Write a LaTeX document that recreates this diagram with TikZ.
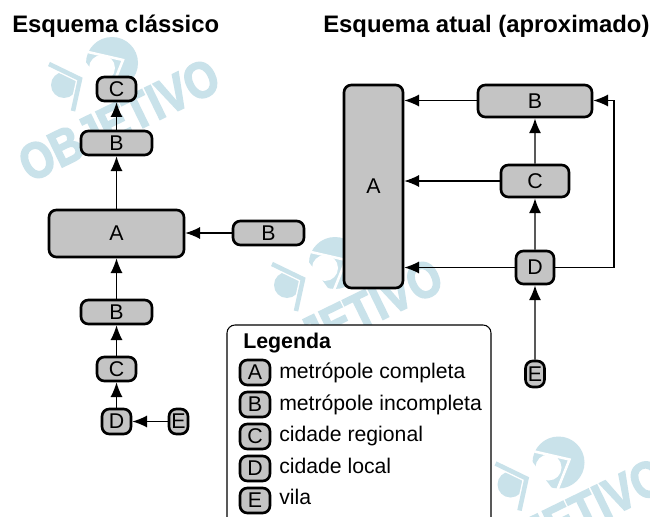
\documentclass[tikz,border=0pt]{standalone}
\usepackage{fontspec}
\setmainfont{Liberation Sans}
\newfontfamily\wmfont[BoldFeatures={FakeBold=3,FakeStretch=0.84}]{Liberation Sans}
\usetikzlibrary{arrows.meta}
\definecolor{wm}{HTML}{C9E2EA}
\definecolor{boxfill}{HTML}{C4C4C4}
\tikzset{
  x=0.75pt,y=-0.75pt,
  place/.style={draw=black,line width=2pt,fill=boxfill,rounded corners=5.5pt,inner sep=0pt,font=\fontsize{16}{18}\selectfont},
  link/.style={draw=black,line width=0.9pt,-{Latex[length=11pt,width=9pt]}},
  graylink/.style={link,draw=black!65,line width=1.2pt,-{Latex[length=11pt,width=9pt,black]}},
  title/.style={font=\bfseries\fontsize{17.9}{20}\selectfont,anchor=base west,inner sep=0pt},
  legendtext/.style={font=\fontsize{15.9}{18}\selectfont,anchor=base west,inner sep=0pt},
  wmtext/.style={text=wm,font=\wmfont\bfseries\fontsize{38}{42}\selectfont,inner sep=0pt}
}
\newcommand{\watermark}[2]{%
 \begin{scope}[shift={(#1,#2)}]
  \fill[wm] (0,0) circle[radius=26];
  \fill[white] (-30,-6) -- (-2,32) -- (-30,34) -- cycle;
  \fill[white] (-10,5) circle[radius=13];
  \draw[white,line width=1.9pt] (-24,-11) -- (11,-3) -- (-1,27);
  \fill[wm] (-48,22) circle[radius=13];
  \draw[white,line width=5.5pt] (-63,1) -- (-32,16) -- (-39,48);
  \draw[wm,line width=3.4pt] (-63,1) -- (-32,16) -- (-39,48);
  \node[wmtext,rotate=26,anchor=center] at (7,57) {OBJETIVO};
 \end{scope}}
\newcommand{\placebox}[6]{% x1,y1,x2,y2,name,text
 \node[place,minimum width=#3*0.75pt-#1*0.75pt,minimum height=#4*0.75pt-#2*0.75pt] (#5) at ({(#1+#3)/2},{(#2+#4)/2}) {#6};}
\begin{document}
\begin{tikzpicture}
\useasboundingbox (0,0) rectangle (650,517);
\fill[white] (0,0) rectangle (650,517);
\watermark{112}{63}
\watermark{335}{263}
\watermark{558.5}{462.5}
% titles
\node[title] (t1) at (12,33) {Esquema clássico};
\node[title] (t2) at (323,33) {Esquema atual (aproximado)};
% left scheme
\placebox{97}{77}{136}{101}{lc1}{C}
\placebox{81}{131}{152}{155}{lb1}{B}
\placebox{49}{210}{184}{257}{la}{A}
\placebox{233}{221}{304}{245}{lb2}{B}
\placebox{81}{300}{152}{324}{lb3}{B}
\placebox{97}{357}{136}{381}{lc2}{C}
\placebox{102}{409}{131}{434}{ld}{D}
\placebox{169}{409}{188}{434}{le}{E}
\draw[link] (lb1) -- (lc1);
\draw[link] (la) -- (lb1);
\draw[link] (lb2.west) -- (la.east |- lb2);
\draw[link] (lb3) -- (la);
\draw[link] (lc2) -- (lb3);
\draw[link] (ld) -- (lc2);
\draw[link] (le) -- (ld);
% right scheme
\placebox{344}{85}{403}{288}{ra}{A}
\placebox{478}{85}{592}{117}{rb}{B}
\placebox{501}{165}{569}{197}{rc}{C}
\placebox{516}{251}{554}{284}{rd}{D}
\placebox{525.5}{361}{544.5}{387}{re}{E}
\coordinate (ca) at (ra.east |- rc);
\coordinate (da) at (ra.east |- rd);
\coordinate (cr) at (614,267.5);
\coordinate (cu) at (614,100.5);
\draw[link] (rb.west |- cu) -- (ra.east |- cu);
\draw[link] (rc) -- (ca);
\draw[link] (rd) -- (da);
\draw[graylink] (rc) -- (rb);
\draw[graylink] (rd) -- (rc);
\draw[graylink] (re) -- (rd);
\draw[link] (rd) -- (cr) -- (cu) -- (rb.east |- cu);
% legend
\draw[black,fill=white,line width=0.8pt,rounded corners=6pt] (227,325) -- (491,325) -- (491,530) -- (227,530) -- cycle;
\node[font=\bfseries\fontsize{16}{18}\selectfont,anchor=base west,inner sep=0pt] (lg) at (243,348) {Legenda};
\placebox{240}{360}{270}{385}{ka}{A}
\placebox{240}{392}{270}{417}{kb}{B}
\placebox{240}{424}{270}{449}{kc}{C}
\placebox{240}{456}{270}{481}{kd}{D}
\placebox{240}{488}{270}{513}{ke}{E}
\node[legendtext] (la1) at (279,378) {metrópole completa};
\node[legendtext] (la2) at (279,410) {metrópole incompleta};
\node[legendtext] (la3) at (279,441) {cidade regional};
\node[legendtext] (la4) at (279,473) {cidade local};
\node[legendtext] (la5) at (279,504) {vila};
\end{tikzpicture}
\end{document}
